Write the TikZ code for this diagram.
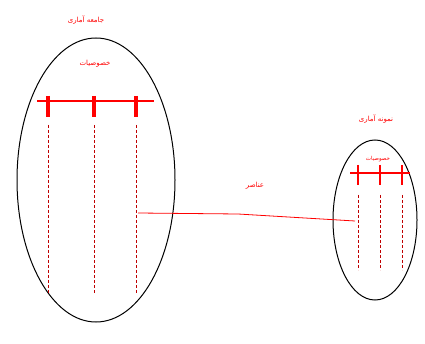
\documentclass[tikz,border=0pt]{standalone}
\usepackage{fontspec}
\newfontfamily\arabicfont[Script=Arabic]{DejaVu Sans}
\TeXXeTstate=1
\tikzset{
	lbl/.style = {text=red, font=\arabicfont\fontsize{7}{8}\selectfont},
	bar/.style = {red, line width=2.5pt},
	tick/.style = {red, line width=3.5pt},
	col/.style = {red!75!black, dashed, dash pattern=on 3pt off 2pt, line width=0.8pt}
}
\begin{document}
\begin{tikzpicture}[x=1pt,y=-1pt]
	\useasboundingbox (0,0) rectangle (425,344);
	% population
	\draw [line width=1pt] (96,180) ellipse (79 and 142);
	\node [lbl] (pop) at (86,20) {\beginR جامعه آماری\endR};
	\node [lbl] (popprop) at (95,64) {\beginR خصوصیات\endR};
	\draw [bar] (37,101) -- (154,101);
	\foreach \x in {48,94,136} {
		\draw [tick] (\x,96) -- (\x,117);
		\draw [col] (\x,125) -- (\x,293);
	}
	% sample
	\draw [line width=1pt] (375,220) ellipse (42 and 80);
	\node [lbl] (smp) at (376,119) {\beginR نمونه آماری\endR};
	\node [lbl, font=\arabicfont\fontsize{5.5}{6}\selectfont] (smpprop) at (378,159) {\beginR خصوصیات\endR};
	\draw [bar] (350,173) -- (410,173);
	\foreach \x in {358,380,402} {
		\draw [tick, line width=2.5pt] (\x,165) -- (\x,185);
		\draw [col, line width=0.9pt] (\x,195) -- (\x,270);
	}
	% elements
	\coordinate (e1) at (138,213);
	\coordinate (e2) at (355,221);
	\draw [red, line width=0.8pt] (e1) -- (238,214) -- (e2);
	\node [lbl] (elem) at (255,186) {\beginR عناصر\endR};
\end{tikzpicture}
\end{document}
